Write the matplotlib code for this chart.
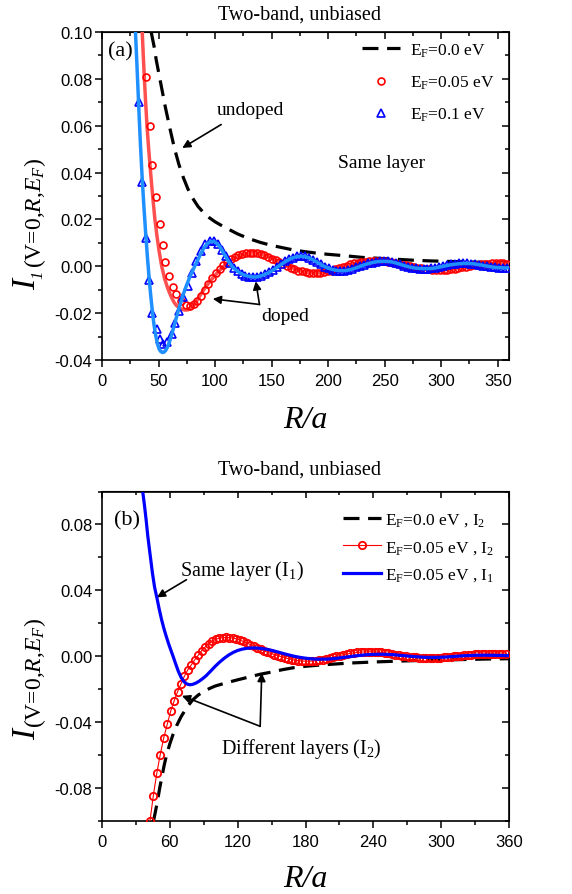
import matplotlib
matplotlib.use('Agg')
import matplotlib.pyplot as plt
from matplotlib.ticker import MultipleLocator, FixedLocator, FormatStrFormatter

plt.rcParams.update({
    'font.family': ['Liberation Serif', 'DejaVu Serif'],
    'mathtext.fontset': 'custom',
    'mathtext.rm': 'Liberation Serif',
    'mathtext.it': 'Liberation Serif:italic',
    'mathtext.bf': 'Liberation Serif:bold',
    'axes.unicode_minus': False,
})

# ---------------- data: panel (a) ----------------
black_a = [(43.5, 0.100), (46, 0.094), (48, 0.088), (50, 0.083), (52, 0.078), (54, 0.073), (56, 0.068),
           (60, 0.059), (64, 0.0505), (68, 0.0435), (72, 0.0378), (76, 0.033), (80, 0.0292), (85, 0.0255),
           (90, 0.0228), (95, 0.0207), (100, 0.019), (105, 0.0176), (110, 0.0163), (120, 0.0138),
           (130, 0.0118), (140, 0.0102), (150, 0.0089), (160, 0.0079), (170, 0.0069), (180, 0.0062),
           (190, 0.0056), (200, 0.0051), (215, 0.0045), (230, 0.0038), (245, 0.0034), (260, 0.0030),
           (275, 0.0026), (290, 0.0023), (305, 0.0021), (320, 0.0019), (335, 0.0017), (350, 0.0016),
           (360, 0.0015)]

red_line_a = [(35.6, 0.100), (36.5, 0.090), (37.5, 0.080), (38.6, 0.070), (39.8, 0.060), (41.3, 0.050),
              (43.0, 0.040), (44.8, 0.030), (46.8, 0.020), (48.6, 0.013), (50.5, 0.0065), (52.8, 0.000),
              (55.5, -0.0055), (58.2, -0.0095), (61, -0.0128), (63.5, -0.0152), (66, -0.0168), (68.5, -0.0178),
              (71, -0.0184), (73.5, -0.0187), (76, -0.0186), (78.5, -0.0180), (81, -0.0168), (83.5, -0.0150),
              (86, -0.0130), (90, -0.0100), (94, -0.0074), (98, -0.0050), (102, -0.0028), (106, -0.0008),
              (110, 0.0010), (114, 0.0025), (118, 0.0037), (122, 0.0046), (126, 0.0052), (130, 0.0056),
              (134, 0.0057), (138, 0.0056), (142, 0.0051), (146, 0.0044), (150, 0.0036), (154, 0.0026),
              (158, 0.0016), (162, 0.0007), (166, -0.0002), (170, -0.0010), (174, -0.0017), (178, -0.0022),
              (182, -0.0026), (186, -0.0028), (190, -0.0029), (194, -0.0028), (198, -0.0025), (202, -0.0020),
              (206, -0.0014), (210, -0.0008), (214, -0.0002), (218, 0.0004), (222, 0.0010), (226, 0.0014),
              (230, 0.0018), (234, 0.0020), (238, 0.0022), (242, 0.0022), (246, 0.0022), (250, 0.0021),
              (254, 0.0019), (258, 0.0016), (262, 0.0012), (266, 0.0008), (270, 0.0003), (274, -0.0001),
              (278, -0.0005), (282, -0.0008), (286, -0.0011), (290, -0.0013), (294, -0.0014), (298, -0.0015),
              (302, -0.0015), (306, -0.0014), (310, -0.0012), (314, -0.0009), (318, -0.0006), (322, -0.0002),
              (326, 0.0002), (330, 0.0005), (334, 0.0008), (338, 0.0010), (342, 0.0011), (346, 0.0012),
              (350, 0.0012), (354, 0.0012), (358, 0.0011), (360, 0.0010)]

red_mark_a = [(38.7, 0.081), (42.2, 0.060), (44.5, 0.0434), (47.4, 0.0294), (51.0, 0.0182), (53.8, 0.0092),
              (56.0, 0.0020), (59.0, -0.0043), (62.7, -0.0090), (65.6, -0.0120), (70.0, -0.0149),
              (74.4, -0.0167), (77.7, -0.0170), (81.0, -0.0163), (84.3, -0.0150), (87.6, -0.0128),
              (90.9, -0.0100), (94.2, -0.0074), (97.5, -0.0050), (100.8, -0.0030), (104.1, -0.0012),
              (107.4, 0.0005), (110.7, 0.0019), (114.0, 0.0031), (117.3, 0.0040), (120.6, 0.0047),
              (123.9, 0.0052), (127.2, 0.0055), (130.5, 0.0057), (133.8, 0.0057), (137.1, 0.0056),
              (140.4, 0.0052), (143.7, 0.0047), (147.0, 0.0040), (150.3, 0.0033), (153.6, 0.0025),
              (156.9, 0.0017), (160.2, 0.0009), (163.5, 0.0001), (166.8, -0.0006), (170.1, -0.0012),
              (173.4, -0.0018), (176.7, -0.0022), (180.0, -0.0025), (183.3, -0.0027), (186.6, -0.0028),
              (189.9, -0.0029), (193.2, -0.0028), (196.5, -0.0026), (199.8, -0.0022), (203.1, -0.0018),
              (206.4, -0.0013), (209.7, -0.0008), (213.0, -0.0003), (216.3, 0.0003), (219.6, 0.0008),
              (222.9, 0.0012), (226.2, 0.0015), (229.5, 0.0018), (232.8, 0.0020), (236.1, 0.0021),
              (239.4, 0.0022), (242.7, 0.0022), (246.0, 0.0022), (249.3, 0.0021), (252.6, 0.0019),
              (255.9, 0.0017), (259.2, 0.0014), (262.5, 0.0011), (265.8, 0.0007), (269.1, 0.0004),
              (272.4, 0.0000), (275.7, -0.0003), (279.0, -0.0006), (282.3, -0.0009), (285.6, -0.0011),
              (288.9, -0.0013), (292.2, -0.0014), (295.5, -0.0015), (298.8, -0.0015), (302.1, -0.0015),
              (305.4, -0.0014), (308.7, -0.0012), (312.0, -0.0010), (315.3, -0.0007), (318.6, -0.0005),
              (321.9, -0.0002), (325.2, 0.0001), (328.5, 0.0004), (331.8, 0.0007), (335.1, 0.0009),
              (338.4, 0.0010), (341.7, 0.0011), (345.0, 0.0012), (348.3, 0.0012), (351.6, 0.0012),
              (354.9, 0.0012), (358.2, 0.0011)]

blue_line_a = [(29.6, 0.100), (31, 0.085), (32.5, 0.068), (34, 0.052), (35.5, 0.038), (37, 0.026), (38.5, 0.015),
               (40, 0.005), (41.5, -0.004), (43, -0.012), (44.5, -0.019), (46, -0.025), (47.5, -0.0295),
               (49, -0.033), (50.5, -0.0353), (52, -0.0364), (53.5, -0.0368), (55, -0.0366), (56.5, -0.0358),
               (58, -0.0344), (60, -0.0318), (63, -0.0268), (66, -0.0215), (69, -0.0165), (72, -0.0118),
               (75, -0.0078), (78, -0.0042), (81, -0.0010), (84, 0.0020), (87, 0.0050), (90, 0.0077),
               (93, 0.0096), (96, 0.0106), (99, 0.0106), (102, 0.0096), (105, 0.0078), (108, 0.0053),
               (112, 0.0020), (116, -0.0006), (120, -0.0022), (124, -0.0034), (128, -0.0041), (132, -0.0045),
               (136, -0.0046), (140, -0.0042), (144, -0.0035), (148, -0.0026), (152, -0.0014), (156, 0.0000),
               (160, 0.0013), (164, 0.0025), (168, 0.0035), (172, 0.0041), (176, 0.0043), (180, 0.0041),
               (184, 0.0034), (188, 0.0024), (192, 0.0012), (196, 0.0001), (200, -0.0008), (204, -0.0014),
               (208, -0.0018), (212, -0.0019), (216, -0.0018), (220, -0.0014), (224, -0.0008), (228, -0.0001),
               (232, 0.0006), (236, 0.0012), (240, 0.0017), (244, 0.0020), (248, 0.0021), (252, 0.0021),
               (256, 0.0019), (260, 0.0014), (264, 0.0008), (268, 0.0002), (272, -0.0003), (276, -0.0007),
               (280, -0.0009), (284, -0.0010), (288, -0.0010), (292, -0.0009), (296, -0.0006), (300, -0.0002),
               (304, 0.0002), (308, 0.0006), (312, 0.0009), (316, 0.0011), (320, 0.0012), (324, 0.0012),
               (328, 0.0011), (332, 0.0008), (336, 0.0005), (340, 0.0001), (344, -0.0002), (348, -0.0005),
               (352, -0.0006), (356, -0.0007), (360, -0.0006)]

blue_mark_a = [(32.8, 0.070), (35.8, 0.036), (39.0, 0.012), (41.7, -0.006), (44.4, -0.020), (48.4, -0.0268),
               (51.0, -0.031), (54.3, -0.0332), (57.8, -0.0325), (61.8, -0.029), (65.0, -0.024), (68.5, -0.019),
               (72.0, -0.0133), (76.0, -0.0084), (80.0, -0.0027), (83.3, 0.0023), (87.4, 0.0065), (91.4, 0.0094),
               (95.4, 0.0110), (98.9, 0.0108), (102.4, 0.0095), (105.9, 0.0070), (109.4, 0.0042), (112.9, 0.0016),
               (116.4, -0.0006), (119.9, -0.0022), (123.4, -0.0033), (126.9, -0.0040), (130.4, -0.0044),
               (133.9, -0.0045), (137.4, -0.0045), (140.9, -0.0041), (144.4, -0.0034), (147.9, -0.0025),
               (151.4, -0.0014), (154.9, -0.0002), (158.4, 0.0010), (161.9, 0.0021), (165.4, 0.0030),
               (168.9, 0.0037), (172.4, 0.0042), (175.9, 0.0044), (179.4, 0.0042), (182.9, 0.0036),
               (186.4, 0.0028), (189.9, 0.0018), (193.4, 0.0008), (196.9, -0.0002), (200.4, -0.0009),
               (203.9, -0.0014), (207.4, -0.0018), (210.9, -0.0019), (214.4, -0.0019), (217.9, -0.0016),
               (221.4, -0.0011), (224.9, -0.0005), (228.4, 0.0001), (231.9, 0.0007), (235.4, 0.0012),
               (238.9, 0.0016), (242.4, 0.0019), (245.9, 0.0021), (249.4, 0.0021), (252.9, 0.0021),
               (256.4, 0.0018), (259.9, 0.0014), (263.4, 0.0009), (266.9, 0.0003), (270.4, -0.0002),
               (273.9, -0.0006), (277.4, -0.0008), (280.9, -0.0010), (284.4, -0.0010), (287.9, -0.0010),
               (291.4, -0.0009), (294.9, -0.0006), (298.4, -0.0003), (301.9, 0.0001), (305.4, 0.0005),
               (308.9, 0.0008), (312.4, 0.0010), (315.9, 0.0012), (319.4, 0.0012), (322.9, 0.0012),
               (326.4, 0.0011), (329.9, 0.0009), (333.4, 0.0006), (336.9, 0.0003), (340.4, 0.0000),
               (343.9, -0.0003), (347.4, -0.0005), (350.9, -0.0006), (354.4, -0.0007), (357.9, -0.0006)]

# ---------------- data: panel (b) ----------------
black_b = [(45.5, -0.100), (47, -0.095), (49, -0.088), (51, -0.080), (53, -0.073), (55, -0.066), (57, -0.060),
           (60, -0.053), (63, -0.047), (66, -0.042), (70, -0.0365), (75, -0.031), (80, -0.0265), (85, -0.0235),
           (90, -0.0212), (95, -0.0195), (100, -0.0180), (110, -0.0160), (120, -0.0142), (130, -0.0125),
           (140, -0.0108), (150, -0.0095), (160, -0.0080), (170, -0.0068), (180, -0.0060), (190, -0.0054),
           (200, -0.0049), (220, -0.0040), (240, -0.0034), (260, -0.0029), (280, -0.0025), (300, -0.0022),
           (320, -0.0019), (340, -0.0016), (360, -0.0014)]

red_b = [(42.4, -0.100), (45.4, -0.0844), (48.5, -0.0707), (51.5, -0.0596), (54.6, -0.0494), (57.7, -0.0412),
         (60.7, -0.0333), (63.8, -0.0270), (66.8, -0.0215), (69.9, -0.0166), (72.9, -0.0120), (76.0, -0.0080),
         (79.1, -0.0050), (82.1, -0.0020), (85.2, 0.0008), (88.2, 0.0035), (91.3, 0.0058), (94.3, 0.0077),
         (97.4, 0.0092), (100.5, 0.0103), (103.5, 0.0110), (106.6, 0.0114), (109.6, 0.0115), (112.7, 0.0114),
         (115.7, 0.0111), (118.8, 0.0106), (121.8, 0.0099), (124.9, 0.0091), (128.0, 0.0082), (131.0, 0.0072),
         (134.1, 0.0062), (137.1, 0.0052), (140.2, 0.0043), (143.2, 0.0034), (146.3, 0.0026), (149.4, 0.0018),
         (152.4, 0.0011), (155.5, 0.0004), (158.5, -0.0002), (161.6, -0.0008), (164.6, -0.0014),
         (167.7, -0.0019), (170.8, -0.0023), (173.8, -0.0026), (176.9, -0.0028), (179.9, -0.0029),
         (183.0, -0.0029), (186.0, -0.0028), (189.1, -0.0026), (192.1, -0.0023), (195.2, -0.0019),
         (198.3, -0.0015), (201.3, -0.0010), (204.4, -0.0005), (207.4, 0.0000), (210.5, 0.0005),
         (213.5, 0.0010), (216.6, 0.0014), (219.7, 0.0018), (222.7, 0.0021), (225.8, 0.0024), (228.8, 0.0026),
         (231.9, 0.0027), (234.9, 0.0028), (238.0, 0.0028), (241.1, 0.0027), (244.1, 0.0026), (247.2, 0.0024),
         (250.2, 0.0021), (253.3, 0.0018), (256.3, 0.0015), (259.4, 0.0011), (262.5, 0.0008), (265.5, 0.0004),
         (268.6, 0.0001), (271.6, -0.0002), (274.7, -0.0004), (277.7, -0.0006), (280.8, -0.0008),
         (283.9, -0.0009), (286.9, -0.0010), (290.0, -0.0010), (293.0, -0.0010), (296.1, -0.0009),
         (299.1, -0.0008), (302.2, -0.0006), (305.3, -0.0004), (308.3, -0.0002), (311.4, 0.0000),
         (314.4, 0.0003), (317.5, 0.0005), (320.5, 0.0007), (323.6, 0.0009), (326.6, 0.0011), (329.7, 0.0012),
         (332.8, 0.0013), (335.8, 0.0014), (338.9, 0.0015), (341.9, 0.0015), (345.0, 0.0015), (348.0, 0.0015),
         (351.1, 0.0015), (354.2, 0.0014), (357.2, 0.0014)]

blue_b = [(36.0, 0.100), (37.5, 0.092), (39.0, 0.083), (40.5, 0.073), (42.5, 0.062), (44.6, 0.0506), (46.5, 0.042),
          (48.6, 0.0354), (50.5, 0.029), (52.7, 0.0223), (54.8, 0.0168), (56.8, 0.0122), (58.8, 0.0079),
          (60.8, 0.0040), (63, -0.0002), (65, -0.0042), (67.5, -0.0090), (70, -0.0128), (72.5, -0.0153),
          (75, -0.0167), (77.5, -0.0172), (80, -0.0170), (83, -0.0162), (86, -0.0150), (89, -0.0135),
          (92, -0.0118), (96, -0.0090), (100, -0.0061), (104, -0.0035), (108, -0.0012), (112, 0.0008),
          (116, 0.0024), (120, 0.0036), (124, 0.0044), (128, 0.0049), (132, 0.0051), (136, 0.0051), (140, 0.0049),
          (144, 0.0045), (148, 0.0040), (152, 0.0033), (156, 0.0026), (160, 0.0018), (164, 0.0011), (168, 0.0004),
          (172, -0.0002), (176, -0.0007), (180, -0.0011), (184, -0.0014), (188, -0.0016), (192, -0.0017),
          (196, -0.0017), (200, -0.0016), (204, -0.0014), (208, -0.0011), (212, -0.0008), (216, -0.0004),
          (220, -0.0001), (224, 0.0003), (228, 0.0006), (232, 0.0009), (236, 0.0011), (240, 0.0012), (244, 0.0013),
          (248, 0.0013), (252, 0.0012), (256, 0.0011), (260, 0.0009), (264, 0.0006), (268, 0.0004), (272, 0.0001),
          (276, -0.0001), (280, -0.0003), (284, -0.0005), (288, -0.0006), (292, -0.0006), (296, -0.0006),
          (300, -0.0005), (304, -0.0004), (308, -0.0002), (312, 0.0000), (316, 0.0002), (320, 0.0004),
          (324, 0.0005), (328, 0.0006), (332, 0.0007), (336, 0.0007), (340, 0.0007), (344, 0.0007),
          (348, 0.0006), (352, 0.0006), (356, 0.0005), (360, 0.0005)]

labels_a = [r'E$_\mathrm{F}$=0.0 eV', r'E$_\mathrm{F}$=0.05 eV', r'E$_\mathrm{F}$=0.1 eV']
labels_b = [r'E$_\mathrm{F}$=0.0 eV , I$_2$', r'E$_\mathrm{F}$=0.05 eV , I$_2$', r'E$_\mathrm{F}$=0.05 eV , I$_1$']
xticks_a = [0, 50, 100, 150, 200, 250, 300, 350]
yticks_a = [-0.04, -0.02, 0.00, 0.02, 0.04, 0.06, 0.08, 0.10]
xticks_b = [0, 60, 120, 180, 240, 300, 360]
yticks_b = [-0.08, -0.04, 0.00, 0.04, 0.08]


def xs(d):
    return [p[0] for p in d]


def ys(d):
    return [p[1] for p in d]


W, H = 572, 895
fig = plt.figure(figsize=(W / 100, H / 100), dpi=100)


def box(l, t, r, b):
    return [l / W, 1 - b / H, (r - l) / W, (b - t) / H]


def fx(x):
    return x / W


def fy(y):
    return 1 - y / H


axa = fig.add_axes(box(102, 33, 509, 361))
axb = fig.add_axes(box(102, 492.5, 509, 822.3))


def style(ax, xt, xminor, yt, yminor, xlim, ylim):
    ax.set_xlim(*xlim)
    ax.set_ylim(*ylim)
    ax.xaxis.set_major_locator(FixedLocator(xt))
    ax.xaxis.set_minor_locator(MultipleLocator(xminor))
    ax.yaxis.set_major_locator(FixedLocator(yt))
    ax.yaxis.set_minor_locator(MultipleLocator(yminor))
    ax.yaxis.set_major_formatter(FormatStrFormatter('%.2f'))
    ax.xaxis.set_major_formatter(FormatStrFormatter('%d'))
    ax.tick_params(which='both', direction='out', top=False, right=False, width=1.1,
                   labelsize=12, labelfontfamily='Liberation Sans')
    ax.tick_params(which='major', length=5)
    ax.tick_params(which='minor', length=3)
    ax.tick_params(axis='x', pad=4)
    ax.tick_params(axis='y', pad=2)
    for s in ax.spines.values():
        s.set_linewidth(1.2)
    sx = ax.secondary_xaxis('top')
    sx.xaxis.set_major_locator(FixedLocator(xt))
    sx.xaxis.set_minor_locator(MultipleLocator(xminor))
    sx.tick_params(which='both', direction='in', width=1.1, labeltop=False, labelbottom=False)
    sx.tick_params(which='major', length=5)
    sx.tick_params(which='minor', length=3)
    sy = ax.secondary_yaxis('right')
    sy.yaxis.set_major_locator(FixedLocator(yt))
    sy.yaxis.set_minor_locator(MultipleLocator(yminor))
    sy.tick_params(which='both', direction='in', width=1.1, labelright=False, labelleft=False)
    sy.tick_params(which='major', length=5)
    sy.tick_params(which='minor', length=3)


style(axa, xticks_a, 25, yticks_a, 0.01, (0, 360), (-0.04, 0.10))
style(axb, xticks_b, 30, yticks_b, 0.02, (0, 360), (-0.10, 0.10))

# ---------------- panel (a) ----------------
l0, = axa.plot(xs(black_a), ys(black_a), color='black', lw=2.3, dashes=(5, 2.7), zorder=2)
axa.plot(xs(red_line_a), ys(red_line_a), color='#ff5050', lw=2.5, zorder=3)
l1, = axa.plot(xs(red_mark_a), ys(red_mark_a), ls='none', marker='o', ms=5, mfc='none', mec='#ff0000',
               mew=1.2, zorder=4)
l2, = axa.plot(xs(blue_mark_a), ys(blue_mark_a), ls='none', marker='^', ms=5.5, mfc='none', mec='#0000ff',
               mew=1.2, zorder=5)
axa.plot(xs(blue_line_a), ys(blue_line_a), color='#1e90ff', lw=2.5, zorder=6)
axa.legend([l0, l1, l2], labels_a, loc='upper left', bbox_to_anchor=(0.639, 0.971), frameon=False,
           fontsize=12.5, handlelength=2.2, handletextpad=0.55, labelspacing=0.85, borderpad=0,
           borderaxespad=0)

arrow = dict(arrowstyle='-|>', color='black', lw=1.2, mutation_scale=12, shrinkA=0, shrinkB=0)
axa.text(16.3, 0.092, '(a)', fontsize=16, ha='center', va='center')
axa.text(131, 0.0669, 'undoped', fontsize=14, ha='center', va='center')
axa.annotate('', xy=(71, 0.0505), xytext=(105.4, 0.0605), arrowprops=arrow)
axa.text(247.3, 0.0442, 'Same layer', fontsize=14, ha='center', va='center')
axa.text(162, -0.021, 'doped', fontsize=14, ha='center', va='center')
axa.annotate('', xy=(136, -0.0064), xytext=(139.3, -0.0163), arrowprops=arrow)
axa.annotate('', xy=(98, -0.0139), xytext=(139.3, -0.0163), arrowprops=arrow)

# ---------------- panel (b) ----------------
m0, = axb.plot(xs(black_b), ys(black_b), color='black', lw=2.3, dashes=(5, 2.7), zorder=2)
m1, = axb.plot(xs(red_b), ys(red_b), color='#ff0000', lw=0.8, marker='o', ms=5.3, mfc='none', mec='#ff0000',
               mew=1.3, zorder=3)
m2, = axb.plot(xs(blue_b), ys(blue_b), color='#0000ff', lw=2.3, zorder=4)
axb.legend([m0, m1, m2], labels_b, loc='upper left', bbox_to_anchor=(0.592, 0.94), frameon=False,
           fontsize=12.5, handlelength=2.2, handletextpad=0.2, labelspacing=0.62, borderpad=0,
           borderaxespad=0)
axb.text(21.9, 0.0826, '(b)', fontsize=16, ha='center', va='center')
axb.text(124, 0.0523, r'Same layer (I$_1$)', fontsize=14.5, ha='center', va='center')
axb.annotate('', xy=(48.6, 0.0358), xytext=(74.7, 0.0465), arrowprops=arrow)
axb.text(176, -0.0555, r'Different layers (I$_2$)', fontsize=14.5, ha='center', va='center')
axb.annotate('', xy=(70.7, -0.0239), xytext=(139.9, -0.0424), arrowprops=arrow)
axb.annotate('', xy=(141.3, -0.0101), xytext=(139.9, -0.0424), arrowprops=arrow)

# ---------------- titles and axis labels ----------------
fig.text(fx(300), fy(15), 'Two-band, unbiased', fontsize=14.5, ha='center', va='center')
fig.text(fx(300), fy(470), 'Two-band, unbiased', fontsize=14.5, ha='center', va='center')
fig.text(fx(305), fy(428), 'R/a', fontsize=23, style='italic', ha='center', va='baseline')
fig.text(fx(305), fy(887), 'R/a', fontsize=23, style='italic', ha='center', va='baseline')

rot = dict(rotation=90, rotation_mode='anchor', ha='left', va='baseline')
fig.text(fx(35), fy(290), 'I', fontsize=24, style='italic', **rot)
fig.text(fx(42), fy(279), '1', fontsize=12, style='italic', **rot)
fig.text(fx(41), fy(268), r'(V=0,$R$,$E_F$)', fontsize=17, **rot)
fig.text(fx(35), fy(740), 'I', fontsize=24, style='italic', **rot)
fig.text(fx(41), fy(728), r'(V=0,$R$,$E_F$)', fontsize=17, **rot)

fig.savefig('out.png', dpi=100)
